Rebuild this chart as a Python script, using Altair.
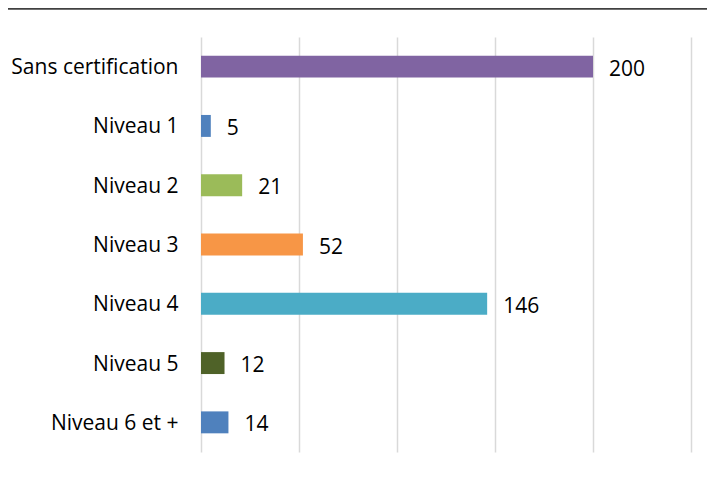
import altair as alt
import pandas as pd

categories = ["Sans certification", "Niveau 1", "Niveau 2", "Niveau 3", "Niveau 4", "Niveau 5", "Niveau 6 et +"]
values = [200, 5, 21, 52, 146, 12, 14]
colors = ["#8064A2", "#4F81BD", "#9BBB59", "#F79646", "#4BACC6", "#4F6228", "#4F81BD"]

df = pd.DataFrame({"cat": categories, "val": values, "col": colors})

FONT = "Open Sans"
FS = 21

y_enc = alt.Y("cat:N", sort=categories, title=None,
              scale=alt.Scale(paddingInner=0.63, paddingOuter=0.315),
              axis=alt.Axis(labelFont=FONT, labelFontSize=FS, labelColor="#000000",
                            labelPadding=23, labelOffset=1.5, ticks=False, domain=False, grid=False))
x_enc = alt.X("val:Q", title=None,
              scale=alt.Scale(domain=[0, 250], nice=False),
              axis=alt.Axis(values=[0, 50, 100, 150, 200, 250], labels=False, ticks=False,
                            domain=False, grid=True, gridColor="#D9D9D9", gridWidth=1.5))

bars = alt.Chart(df).mark_bar().encode(
    x=x_enc, y=y_enc, color=alt.Color("col:N", scale=None)
)

text = alt.Chart(df).mark_text(align="left", baseline="middle", dx=16, dy=3,
                                font=FONT, fontSize=FS, color="#000000").encode(
    x="val:Q", y=alt.Y("cat:N", sort=categories), text="val:Q"
)

topline = alt.Chart(pd.DataFrame({"a": [0]})).mark_rule(color="#404040", strokeWidth=2.5).encode(
    x=alt.value(-193), x2=alt.value(506), y=alt.value(-28.5)
)

chart = alt.layer(bars, text, topline).properties(
    width=490, height=415,
    autosize=alt.AutoSizeParams(type="none"),
    padding={"left": 193, "top": 29, "right": 16, "bottom": 17},
).configure_view(stroke=None)

chart.save("out.html", embed_options={"renderer": "svg", "actions": False})
